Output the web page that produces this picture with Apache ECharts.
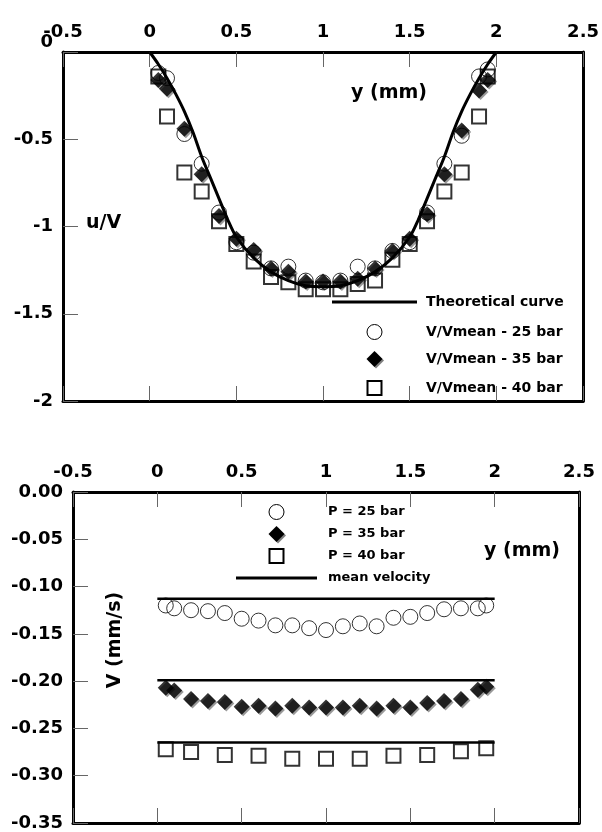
<!DOCTYPE html>
<html><head><meta charset="utf-8">
<script src="https://cdn.jsdelivr.net/npm/echarts@6/dist/echarts.min.js"></script>
<style>html,body{margin:0;padding:0;background:#fff}#c{width:602px;height:832px}</style>
</head><body><div id="c"></div>
<script>
// ---------- data: top chart (u/V vs y) ----------
const topPos = [0.05,0.1,0.2,0.3,0.4,0.5,0.6,0.7,0.8,0.9,1.0,1.1,1.2,1.3,1.4,1.5,1.6,1.7,1.8,1.9,1.95];
const uv25 = [-0.12,-0.15,-0.47,-0.64,-0.92,-1.09,-1.15,-1.24,-1.23,-1.31,-1.32,-1.31,-1.23,-1.24,-1.14,-1.09,-0.92,-0.64,-0.48,-0.14,-0.10];
const uv35 = [-0.16,-0.21,-0.44,-0.70,-0.94,-1.07,-1.135,-1.24,-1.26,-1.315,-1.315,-1.315,-1.30,-1.24,-1.14,-1.07,-0.93,-0.70,-0.45,-0.22,-0.16];
const uv40 = [-0.14,-0.37,-0.69,-0.80,-0.97,-1.10,-1.20,-1.29,-1.32,-1.36,-1.36,-1.36,-1.33,-1.31,-1.19,-1.10,-0.97,-0.80,-0.69,-0.37,-0.14];
const theoryPos = [0,0.05,0.1,0.15,0.2,0.25,0.3,0.35,0.4,0.45,0.5,0.6,0.7,0.8,0.9,1.0,1.1,1.2,1.3,1.4,1.5,1.55,1.6,1.65,1.7,1.75,1.8,1.85,1.9,1.95,2.0];
const theoryU = [0,-0.07,-0.15,-0.24,-0.34,-0.46,-0.6,-0.72,-0.84,-0.96,-1.06,-1.18,-1.26,-1.31,-1.34,-1.345,-1.34,-1.31,-1.26,-1.18,-1.06,-0.96,-0.84,-0.72,-0.6,-0.46,-0.34,-0.24,-0.15,-0.07,0];
const topNames = ['Theoretical curve','V/Vmean - 25 bar','V/Vmean - 35 bar','V/Vmean - 40 bar'];

// ---------- data: bottom chart (V vs y) ----------
const botPos = [0.05,0.1,0.2,0.3,0.4,0.5,0.6,0.7,0.8,0.9,1.0,1.1,1.2,1.3,1.4,1.5,1.6,1.7,1.8,1.9,1.95];
const v25 = [-0.12,-0.123,-0.125,-0.126,-0.128,-0.134,-0.136,-0.141,-0.141,-0.144,-0.146,-0.142,-0.139,-0.142,-0.133,-0.132,-0.128,-0.124,-0.123,-0.123,-0.12];
const v35 = [-0.207,-0.21,-0.219,-0.221,-0.222,-0.227,-0.226,-0.229,-0.226,-0.228,-0.228,-0.228,-0.226,-0.229,-0.226,-0.228,-0.223,-0.221,-0.219,-0.209,-0.206];
const sqPos = [0.05,0.2,0.4,0.6,0.8,1.0,1.2,1.4,1.6,1.8,1.95];
const v40 = [-0.272,-0.275,-0.278,-0.279,-0.282,-0.282,-0.282,-0.279,-0.278,-0.274,-0.271];
const meanPos = [0,2];
const meanV = [-0.113,-0.199,-0.265];
const botNames = ['P = 25 bar','P = 35 bar','P = 40 bar','mean velocity'];

const xTicks = {min:-0.5,max:2.5,interval:0.5};

const FONT = 'DejaVu Sans';
const pair = (xs, ys) => xs.map((x,i)=>[x,ys[i]]);
const tickStyle = {show:true, inside:true, length:15, lineStyle:{color:'#666', width:1}};
const frameLine = {show:true, onZero:false, lineStyle:{color:'#000', width:3}};
const lblStyle = {color:'#000', fontFamily:FONT, fontWeight:'bold', fontSize:18};

function xAxes(gi){
  return [
    {gridIndex:gi, type:'value', position:'top', ...xTicks, axisLine:frameLine, axisTick:tickStyle,
     axisLabel:{...lblStyle, margin:11}, splitLine:{show:false}},
    {gridIndex:gi, type:'value', position:'bottom', ...xTicks, axisLine:frameLine, axisTick:tickStyle,
     axisLabel:{show:false}, splitLine:{show:false}}
  ];
}

const circleStyle = {color:'rgba(0,0,0,0)', borderColor:'#000', borderWidth:1};
const squareStyle = {color:'rgba(0,0,0,0)', borderColor:'#000', borderWidth:2};
const diamondStyle = {color:'#000', shadowColor:'rgba(0,0,0,0.5)', shadowOffsetX:1.5, shadowOffsetY:1.5};

// ---------- legend keys (drawn as graphics) ----------
function legendBlock(names, x1, x2, textX, ys, fontSize, lineFirst){
  const cx = (x1+x2)/2;
  const els = [];
  const tfont = 'bold '+fontSize+'px "DejaVu Sans"';
  const kinds = lineFirst ? ['line','circle','diamond','rect'] : ['circle','diamond','rect','line'];
  kinds.forEach((k,i)=>{
    const y = ys[i];
    if(k==='line') els.push({type:'line', shape:{x1:x1,y1:y,x2:x2,y2:y}, style:{stroke:'#000', lineWidth:3}});
    if(k==='circle') els.push({type:'circle', shape:{cx:cx,cy:y,r:7.5}, style:{fill:'#fff', stroke:'#000', lineWidth:1}});
    if(k==='diamond') els.push({type:'polygon', shape:{points:[[cx,y-8],[cx+8,y],[cx,y+8],[cx-8,y]]},
        style:{fill:'#000', shadowColor:'rgba(0,0,0,0.5)', shadowOffsetX:1.5, shadowOffsetY:1.5}});
    if(k==='rect') els.push({type:'rect', shape:{x:cx-7,y:y-7,width:14,height:14}, style:{fill:'#fff', stroke:'#000', lineWidth:2}});
    els.push({type:'text', x:textX, y:y, style:{text:names[i], fill:'#000', font:tfont, verticalAlign:'middle'}});
  });
  return els;
}

const option = {
  animation:false,
  backgroundColor:'#fff',
  grid:[
    {left:63, top:52, width:523, height:349},
    {left:73, top:492, width:506, height:335}
  ],
  xAxis:[...xAxes(0), ...xAxes(1)],
  yAxis:[
    {gridIndex:0, type:'value', position:'left', min:-2, max:0, interval:0.5,
     axisLine:frameLine, axisTick:tickStyle, splitLine:{show:false},
     axisLabel:{...lblStyle, margin:10, formatter:v=> v===0 ? '{up|0}' : String(v),
       rich:{up:{...lblStyle, padding:[0,0,20,0]}}}},
    {gridIndex:0, type:'value', position:'right', min:-2, max:0, interval:0.5,
     axisLine:frameLine, axisTick:{show:false}, axisLabel:{show:false}, splitLine:{show:false}},
    {gridIndex:1, type:'value', position:'left', min:-0.35, max:0, interval:0.05,
     axisLine:frameLine, axisTick:tickStyle, splitLine:{show:false},
     axisLabel:{...lblStyle, margin:10, padding:[0,0,5,0], formatter:v=>v.toFixed(2)}},
    {gridIndex:1, type:'value', position:'right', min:-0.35, max:0, interval:0.05,
     axisLine:frameLine, axisTick:{show:false}, axisLabel:{show:false}, splitLine:{show:false}}
  ],
  graphic:[
    {type:'text', left:351, top:84, style:{text:'y (mm)', fill:'#000', font:'bold 19px "DejaVu Sans"'}},
    {type:'text', left:86, top:214, style:{text:'u/V', fill:'#000', font:'bold 19px "DejaVu Sans"'}},
    {type:'text', left:484, top:542, style:{text:'y (mm)', fill:'#000', font:'bold 19px "DejaVu Sans"'}},
    {type:'text', x:115, y:640, rotation:Math.PI/2,
     style:{text:'V (mm/s)', fill:'#000', font:'bold 19px "DejaVu Sans"', align:'center', verticalAlign:'middle'}},
    {type:'group', children: legendBlock(topNames, 332, 417, 426, [302,332,359,388], 14, true)},
    {type:'group', children: legendBlock(botNames, 236, 317, 328, [512,534,556,578], 13, false)}
  ],
  series:[
    {name:topNames[0], type:'line', xAxisIndex:0, yAxisIndex:0, data:pair(theoryPos, theoryU),
     smooth:0.3, showSymbol:false, symbol:'none', lineStyle:{color:'#000', width:3}, itemStyle:{color:'#000'}, z:2},
    {name:topNames[1], type:'scatter', xAxisIndex:0, yAxisIndex:0, data:pair(topPos, uv25),
     symbol:'circle', symbolSize:15, itemStyle:circleStyle, z:3},
    {name:topNames[2], type:'scatter', xAxisIndex:0, yAxisIndex:0, data:pair(topPos, uv35),
     symbol:'diamond', symbolSize:16, itemStyle:diamondStyle, z:4},
    {name:topNames[3], type:'scatter', xAxisIndex:0, yAxisIndex:0, data:pair(topPos, uv40),
     symbol:'rect', symbolSize:14, itemStyle:squareStyle, z:5},

    {name:botNames[0], type:'scatter', xAxisIndex:2, yAxisIndex:2, data:pair(botPos, v25),
     symbol:'circle', symbolSize:15, itemStyle:circleStyle, z:3},
    {name:botNames[1], type:'scatter', xAxisIndex:2, yAxisIndex:2, data:pair(botPos, v35),
     symbol:'diamond', symbolSize:16, itemStyle:diamondStyle, z:4},
    {name:botNames[2], type:'scatter', xAxisIndex:2, yAxisIndex:2, data:pair(sqPos, v40),
     symbol:'rect', symbolSize:14, itemStyle:squareStyle, z:5},
    ...meanV.map(m=>({name:botNames[3], type:'line', xAxisIndex:2, yAxisIndex:2,
      data:meanPos.map(x=>[x,m]), showSymbol:false, symbol:'none',
      lineStyle:{color:'#000', width:2.5}, itemStyle:{color:'#000'}, z:2}))
  ]
};
const chart = echarts.init(document.getElementById('c'), null, {renderer:'canvas'});
chart.setOption(option);
</script></body></html>
